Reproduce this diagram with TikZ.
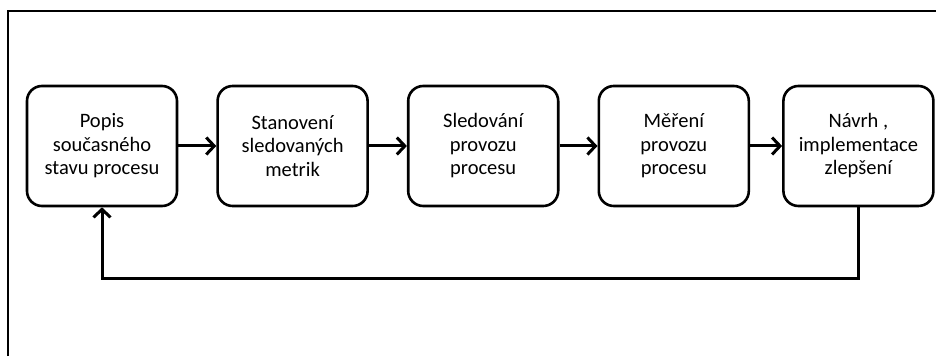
\documentclass[tikz,border=0pt]{standalone}
\usepackage{fontspec}
\setmainfont{Carlito}
\usetikzlibrary{positioning,arrows.meta}

\tikzset{
  krok/.style={draw, rectangle, rounded corners=15pt, line width=2.6pt,
    minimum width=150pt, minimum height=120pt, align=center,
    font=\fontsize{20.5}{23.5}\selectfont, inner sep=2pt},
  sipka/.style={-{Straight Barb[length=8pt,width=17pt]}, line width=3pt}
}

\begin{document}
\begin{tikzpicture}[x=1pt, y=1pt, node distance=38pt]
\useasboundingbox (0,0) rectangle (936,356);
% ramecek
\draw[line width=1.8pt] (8,0) -- (8,345) -- (936,345);

\node[krok] (popis) at (102,210) {Popis\\současného\\stavu procesu};
\node[krok, right=of popis] (metriky) {Stanovení\\sledovaných\\metrik};
\node[krok, right=of metriky] (sledovani) {Sledování\\provozu\\procesu};
\node[krok, right=of sledovani] (mereni) {Měření\\provozu\\procesu};
\node[krok, right=32pt of mereni] (navrh) {Návrh ,\\implementace\\zlepšení};

\draw[sipka] (popis) -- (metriky);
\draw[sipka] (metriky) -- (sledovani);
\draw[sipka] (sledovani) -- (mereni);
\draw[sipka] (mereni) -- (navrh);
% zpetna vazba
\draw[sipka] (navrh.south) -- ++(0,-71) -| (popis.south);
\end{tikzpicture}
\end{document}
